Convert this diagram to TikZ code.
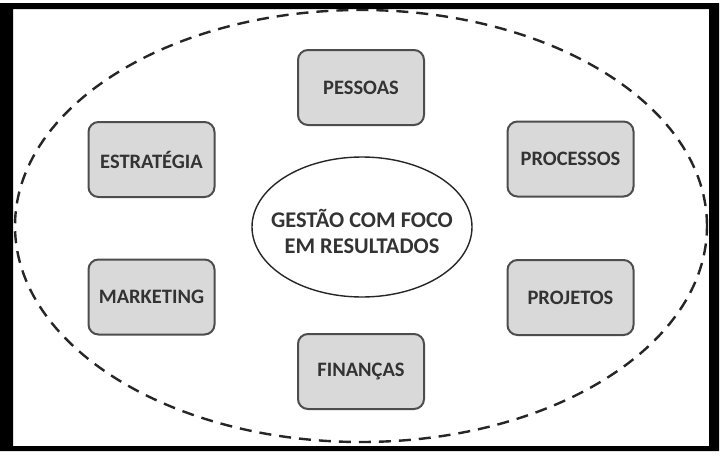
\documentclass[tikz,border=0pt]{standalone}
\usepackage{fontspec}
\setmainfont{Carlito}
\usetikzlibrary{shapes.geometric}
\definecolor{boxfill}{HTML}{D9D9D9}
\definecolor{boxline}{HTML}{4D4D4D}
\definecolor{txt}{HTML}{333333}
\tikzset{
  topic/.style={draw=boxline, line width=2pt, fill=boxfill, rounded corners=10pt,
    minimum width=126pt, minimum height=75pt, inner sep=0pt,
    font=\bfseries\fontsize{20.5}{24}\selectfont, text=txt},
  core/.style={draw=black!85, line width=1.4pt, ellipse, minimum width=220pt, minimum height=140pt,
    inner sep=0pt},
  coretext/.style={align=center, inner sep=0pt, font=\bfseries\fontsize{22.4}{26}\selectfont, text=txt},
  frame/.style={draw=none, fill=black},
  outer/.style={draw=black!85, line width=2.4pt, dash pattern=on 12pt off 8pt}
}
\begin{document}
\begin{tikzpicture}[x=1pt,y=-1pt]
\useasboundingbox (0,0) rectangle (724,458);
\fill[white] (0,0) rectangle (724,458);
\path[frame, even odd rule] (0,3) rectangle (719,451) (13,9) rectangle (709,446);
\node[outer, draw, ellipse, minimum width=692pt, minimum height=432pt, inner sep=0pt] (ring) at (361,226) {};
\node[core] (center) at (362,227) {};
\node[coretext] (centertext) at (362,231) {GESTÃO COM FOCO\\EM RESULTADOS};
\node[topic] (pessoas) at (361,87.5) {PESSOAS};
\node[topic] (estrategia) at (151.5,159.5) {ESTRATÉGIA};
\node[topic] (processos) at (570.5,159) {PROCESSOS};
\node[topic] (marketing) at (151.5,297) {MARKETING};
\node[topic] (projetos) at (570.5,297.5) {PROJETOS};
\node[topic] (financas) at (361,371.5) {FINANÇAS};
\end{tikzpicture}
\end{document}
